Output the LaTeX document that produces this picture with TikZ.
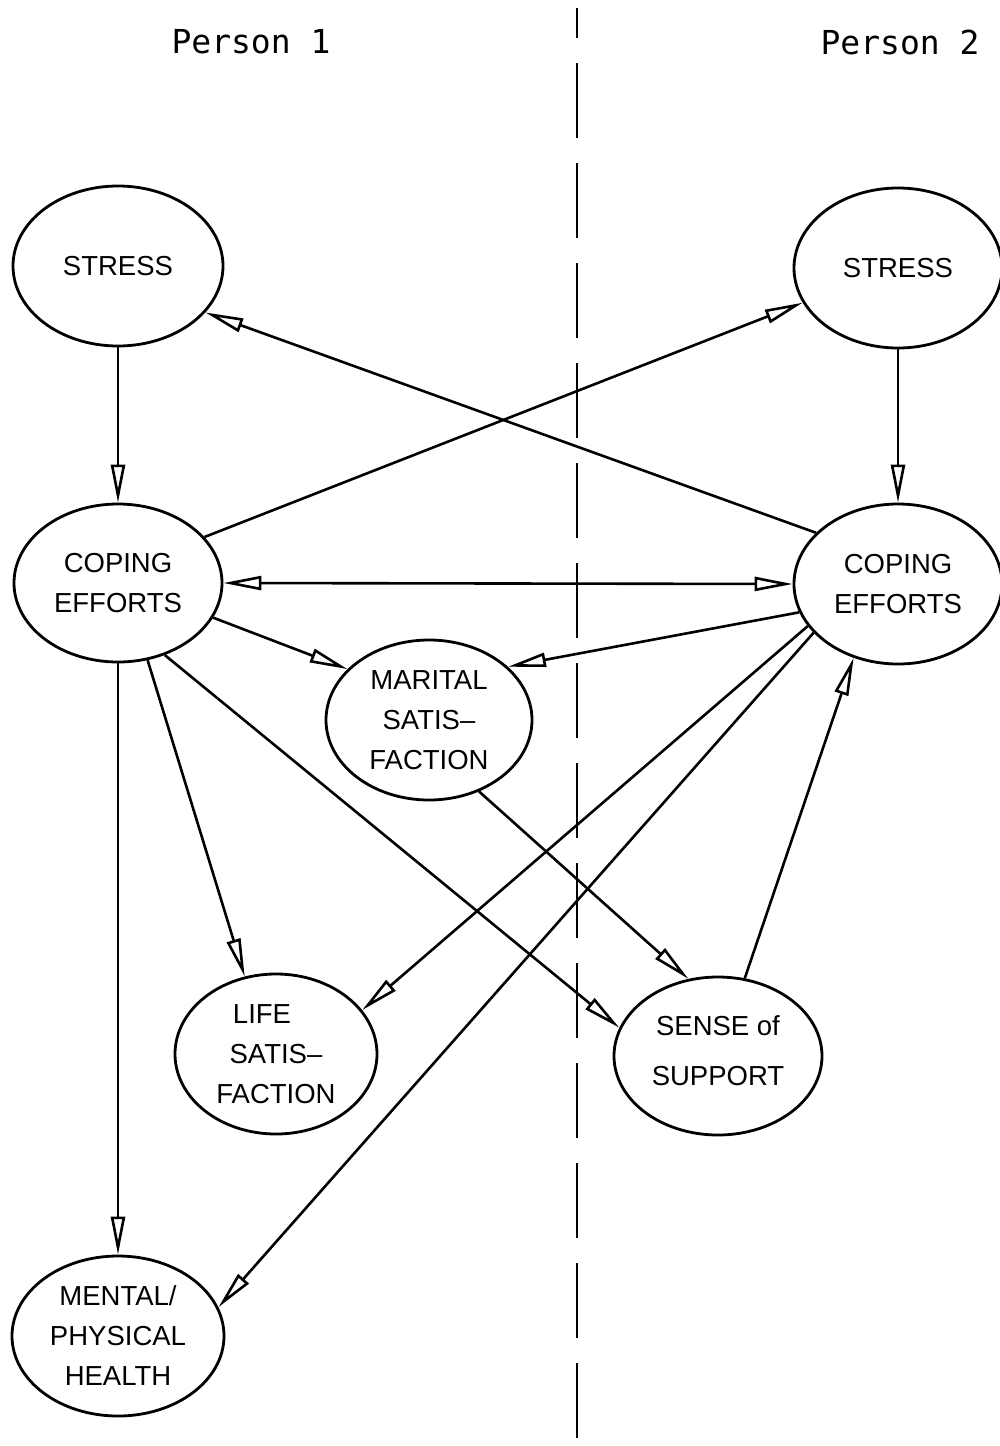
\documentclass[tikz,border=0pt]{standalone}
\usepackage{fontspec}
\setmainfont{Liberation Sans}
\newfontfamily\personfont{DejaVu Sans Mono}
\usetikzlibrary{arrows.meta,shapes.geometric}
\begin{document}
\begin{tikzpicture}[x=1pt,y=-1pt,
  ell/.style={ellipse, draw, line width=2.8pt, inner sep=0pt},
  lbl/.style={font=\fontsize{27.5}{40}\selectfont, align=center, inner sep=0pt},
  conn/.style={line width=2.6pt, -{Triangle[open, length=38pt, width=14pt]}},
  both/.style={line width=2.6pt, {Triangle[open, length=38pt, width=14pt]}-{Triangle[open, length=38pt, width=14pt]}},
  divider/.style={line width=2.6pt, dash pattern=on 75pt off 25pt, dash phase=45pt},
  person/.style={font=\personfont\fontsize{33}{40}\selectfont, inner sep=0pt}]
\useasboundingbox (0,0) rectangle (999,1446);

\node[person] (p1) at (251,42) {Person 1};
\node[person] (p2) at (900,42) {Person 2};

\coordinate (dtop) at (577,8);
\coordinate (dbot) at (577,1446);
\draw[divider] (dtop) -- (dbot);

\node[ell, minimum width=210pt, minimum height=160pt, label={[lbl]center:STRESS}] (s1) at (118,266) {};
\node[ell, minimum width=208pt, minimum height=160pt, label={[lbl]center:STRESS}] (s2) at (898,268) {};
\node[ell, minimum width=208pt, minimum height=158pt, label={[lbl]center:{COPING\\EFFORTS}}] (c1) at (118,583) {};
\node[ell, minimum width=208pt, minimum height=160pt, label={[lbl]center:{COPING\\EFFORTS}}] (c2) at (898,584) {};
\node[ell, minimum width=206pt, minimum height=160pt, label={[lbl]center:{MARITAL\\SATIS--\\FACTION}}] (mar) at (429,720) {};
\node[ell, minimum width=202pt, minimum height=160pt, label={[lbl]center:{LIFE\rule{28pt}{0pt}\\SATIS--\\FACTION}}] (life) at (276,1054) {};
\node[ell, minimum width=208pt, minimum height=158pt, label={[lbl,yshift=5pt]center:{SENSE of\\[10pt]SUPPORT}}] (sense) at (718,1056) {};
\node[ell, minimum width=212pt, minimum height=160pt, label={[lbl]center:{MENTAL/\\PHYSICAL\\HEALTH}}] (ment) at (118,1336) {};

\draw[conn] (s1.south) -- (c1.north);
\draw[conn] (s2.south) -- (c2.north);
\draw[conn] (c2.148) -- (s1.-28);
\draw[conn] (c1.28) -- (s2.200);
\draw[both] (c1.east) -- (c2.west);
\draw[conn] (c1.-20) -- (mar.148);
\draw[conn] (c2.196) -- (mar.34);
\draw[conn] (c1.south) -- (ment.north);
\draw[conn] (c1.-69) -- (life.112);
\draw[conn] (c1.-57) -- (sense.164);
\draw[conn] (mar.-55) -- (sense.111);
\draw[conn] (c2.205) -- (life.27);
\draw[conn] (c2.210) -- (ment.16);
\draw[conn] (sense.71) -- (c2.239);
\end{tikzpicture}
\end{document}
